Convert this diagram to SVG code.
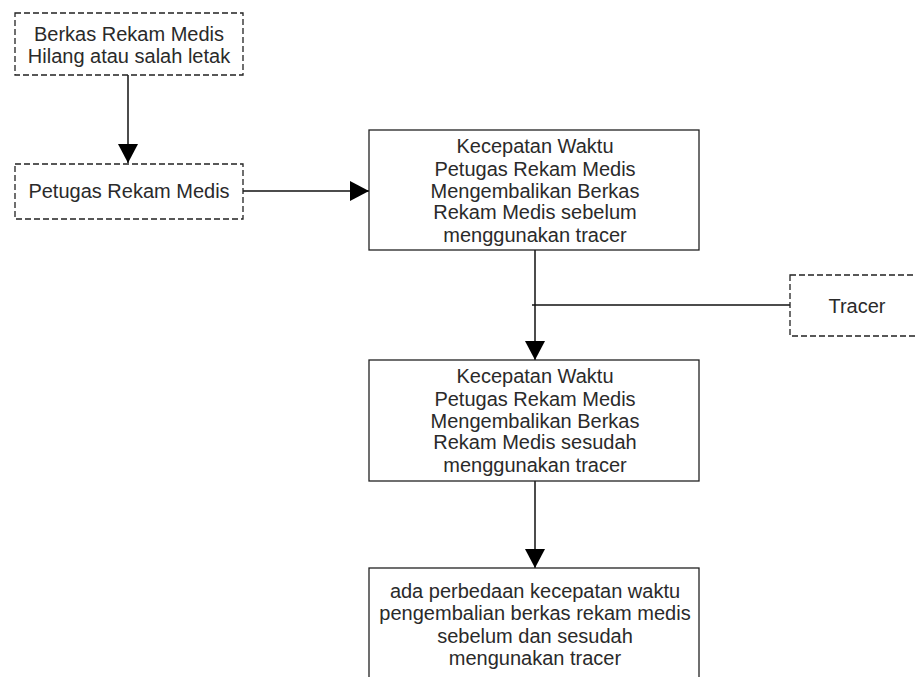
<svg xmlns="http://www.w3.org/2000/svg" width="916" height="677" viewBox="0 0 916 677">
<defs>
<style>
.box{fill:#fff;stroke:#222;stroke-width:1.3}
.dash{stroke-dasharray:6,3}
.t{font-family:"Liberation Sans",Arial,sans-serif;font-size:20px;fill:#2a2a2a;text-anchor:middle}
.c{stroke:#111;stroke-width:1.5;fill:none}
</style>
<marker id="ah" markerWidth="20" markerHeight="20" refX="19" refY="10" orient="auto" markerUnits="userSpaceOnUse">
<path d="M0,0 L19,10 L0,20 Z" fill="#000"/>
</marker>
</defs>
<rect width="916" height="677" fill="#fff"/>
<g id="connectors">
<line class="c" x1="128" y1="75" x2="128" y2="163" marker-end="url(#ah)"/>
<line class="c" x1="243" y1="191" x2="369" y2="191" marker-end="url(#ah)"/>
<line class="c" x1="535" y1="250" x2="535" y2="360" marker-end="url(#ah)"/>
<line class="c" x1="532" y1="305" x2="790" y2="305"/>
<line class="c" x1="535" y1="481" x2="535" y2="568" marker-end="url(#ah)"/>
</g>
<g id="n1">
<rect class="box dash" x="15" y="13" width="228" height="62"/>
<text class="t" x="129" y="41">Berkas Rekam Medis</text>
<text class="t" x="129" y="63">Hilang atau salah letak</text>
</g>
<g id="n2">
<rect class="box dash" x="15" y="164" width="228" height="55"/>
<text class="t" x="129" y="198">Petugas Rekam Medis</text>
</g>
<g id="n3">
<rect class="box" x="369" y="130" width="330" height="120"/>
<text class="t" x="535" y="153">Kecepatan Waktu</text>
<text class="t" x="535" y="176">Petugas Rekam Medis</text>
<text class="t" x="535" y="198">Mengembalikan Berkas</text>
<text class="t" x="535" y="219">Rekam Medis sebelum</text>
<text class="t" x="535" y="242">menggunakan tracer</text>
</g>
<g id="n4">
<rect class="box dash" x="790" y="275" width="140" height="61"/>
<text class="t" x="857" y="313">Tracer</text>
</g>
<g id="n5">
<rect class="box" x="369" y="360" width="330" height="121"/>
<text class="t" x="535" y="383">Kecepatan Waktu</text>
<text class="t" x="535" y="406">Petugas Rekam Medis</text>
<text class="t" x="535" y="428">Mengembalikan Berkas</text>
<text class="t" x="535" y="449">Rekam Medis sesudah</text>
<text class="t" x="535" y="472">menggunakan tracer</text>
</g>
<g id="n6">
<rect class="box" x="369" y="568" width="330" height="130"/>
<text class="t" x="535" y="598">ada perbedaan kecepatan waktu</text>
<text class="t" x="535" y="620">pengembalian berkas rekam medis</text>
<text class="t" x="535" y="643">sebelum dan sesudah</text>
<text class="t" x="535" y="665">mengunakan tracer</text>
</g>
</svg>
